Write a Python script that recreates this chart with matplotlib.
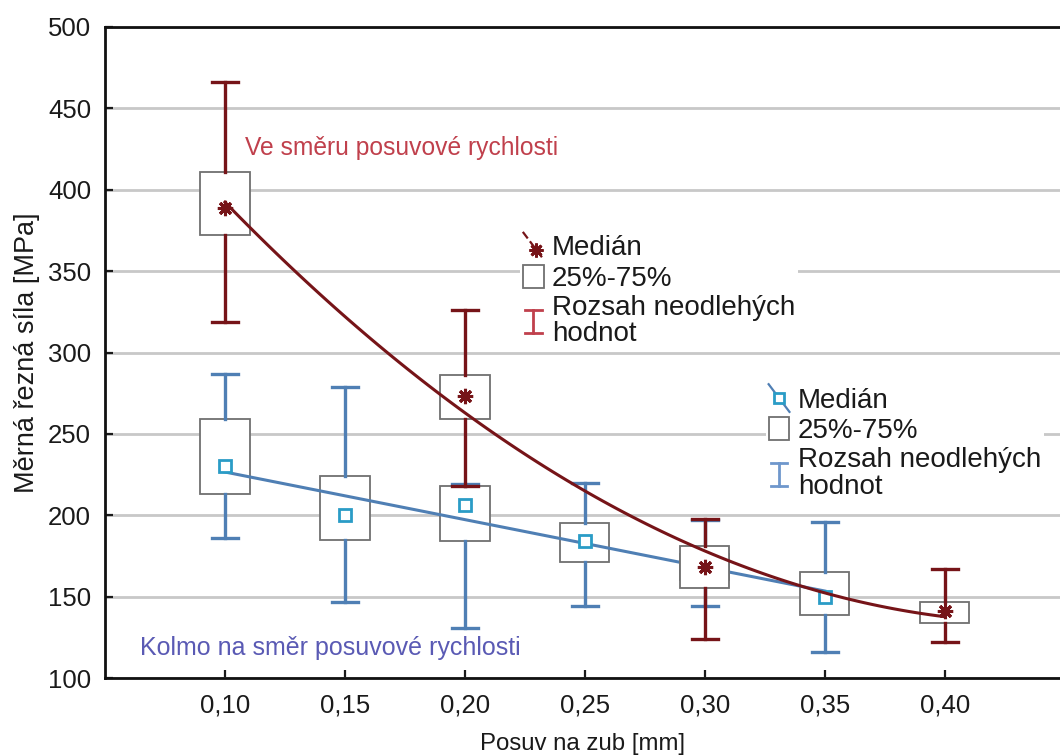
import numpy as np
import matplotlib
matplotlib.use("Agg")
import matplotlib.pyplot as plt
from matplotlib.lines import Line2D
from matplotlib.patches import Patch
from matplotlib.legend_handler import HandlerBase

plt.rcParams['font.family'] = ['Liberation Sans', 'DejaVu Sans']

# feed per tooth [mm]
feed_along = [0.10, 0.20, 0.30, 0.40]
feed_across = [0.10, 0.15, 0.20, 0.25, 0.30, 0.35]

# specific cutting force along the feed direction [MPa]
along_med = [389, 273, 168, 141]
along_q1 = [372, 259, 155, 134]
along_q3 = [411, 286, 181, 147]
along_lo = [319, 218, 124, 122]
along_hi = [466, 326, 198, 167]

# specific cutting force perpendicular to the feed direction [MPa]
across_med = [230, 200, 206, 184, 170, 150]
across_q1 = [213, 185, 184, 171, 160, 139]
across_q3 = [259, 224, 218, 195, 176, 165]
across_lo = [186, 147, 131, 144, 144, 116]
across_hi = [287, 279, 219, 220, 197, 196]

xticks = [0.10, 0.15, 0.20, 0.25, 0.30, 0.35, 0.40]
xticklabels = ['0,10', '0,15', '0,20', '0,25', '0,30', '0,35', '0,40']
yticks = [100, 150, 200, 250, 300, 350, 400, 450, 500]

DARK_RED = '#761418'
LIGHT_RED = '#c0404c'
BLUE = '#4f7fb4'
LIGHT_BLUE = '#6f97cc'
CYAN = '#2a9cc6'
BOX_EDGE = '#707070'


def stats(med, q1, q3, lo, hi):
    return [dict(med=m, q1=a, q3=b, whislo=l, whishi=h, fliers=[])
            for m, a, b, l, h in zip(med, q1, q3, lo, hi)]


class HandlerDiag(HandlerBase):
    # diagonal line with the median marker on it
    def __init__(self, shift=0.15):
        super().__init__()
        self.shift = shift

    def create_artists(self, legend, orig_handle, xdescent, ydescent,
                       width, height, fontsize, trans):
        x0, x1 = -xdescent, -xdescent + width
        y0, y1 = -ydescent - 0.1 * height, -ydescent + 1.1 * height
        ln = Line2D([x0, x1], [y1, y0], color=orig_handle.get_color(),
                    linestyle=orig_handle.get_linestyle(), linewidth=1.6)
        mk = Line2D([(x0 + x1) / 2 + self.shift * width],
                    [(y0 + y1) / 2 - self.shift * (y1 - y0)],
                    linestyle='none', marker=orig_handle.get_marker(),
                    markersize=orig_handle.get_markersize(),
                    markeredgecolor=orig_handle.get_markeredgecolor(),
                    markerfacecolor=orig_handle.get_markerfacecolor(),
                    markeredgewidth=orig_handle.get_markeredgewidth())
        for a in (ln, mk):
            a.set_transform(trans)
        return [ln, mk]


class HandlerIBar(HandlerBase):
    # vertical bar with caps, as the whisker range
    def create_artists(self, legend, orig_handle, xdescent, ydescent,
                       width, height, fontsize, trans):
        cx = -xdescent + width / 2
        y0, y1 = -ydescent, -ydescent + height
        c = orig_handle.get_color()
        lw = orig_handle.get_linewidth()
        arts = [Line2D([cx, cx], [y0, y1], color=c, linewidth=lw),
                Line2D([cx - width * 0.4, cx + width * 0.4], [y0, y0], color=c, linewidth=lw),
                Line2D([cx - width * 0.4, cx + width * 0.4], [y1, y1], color=c, linewidth=lw)]
        for a in arts:
            a.set_transform(trans)
        return arts


fig = plt.figure(figsize=(10.6, 7.56), dpi=100)
ax = fig.add_axes([105 / 1060, 78 / 756, 955 / 1060, 651 / 756])

ax.set_xlim(0.05, 0.448)
ax.set_ylim(100, 500)
ax.yaxis.grid(True, color='#c8c8c8', linewidth=2)
ax.set_axisbelow(True)

# perpendicular direction: boxes, trend line, medians
ax.bxp(stats(across_med, across_q1, across_q3, across_lo, across_hi),
       positions=feed_across, widths=0.0205, capwidths=0.011,
       patch_artist=True, showfliers=False, manage_ticks=False,
       boxprops=dict(facecolor='white', edgecolor=BOX_EDGE, linewidth=1.3),
       whiskerprops=dict(color=BLUE, linewidth=2.4),
       capprops=dict(color=BLUE, linewidth=2.4),
       medianprops=dict(linewidth=0), zorder=2)
fit_b = np.polyfit(feed_across, across_med, 1)
xb = np.linspace(feed_across[0], feed_across[-1], 50)
ax.plot(xb, np.polyval(fit_b, xb), color=BLUE, linewidth=2.2, zorder=2.5)
ax.plot(feed_across, across_med, linestyle='none', marker='s', markersize=8,
        markerfacecolor='white', markeredgecolor=CYAN, markeredgewidth=2, zorder=2.6)

# along the feed direction: boxes, quadratic trend, medians
ax.bxp(stats(along_med, along_q1, along_q3, along_lo, along_hi),
       positions=feed_along, widths=0.0205, capwidths=0.011,
       patch_artist=True, showfliers=False, manage_ticks=False,
       boxprops=dict(facecolor='white', edgecolor=BOX_EDGE, linewidth=1.3),
       whiskerprops=dict(color=DARK_RED, linewidth=2.4),
       capprops=dict(color=DARK_RED, linewidth=2.4),
       medianprops=dict(linewidth=0), zorder=3)
fit_r = np.polyfit(feed_along, along_med, 2)
xr = np.linspace(feed_along[0], feed_along[-1], 100)
ax.plot(xr, np.polyval(fit_r, xr), color=DARK_RED, linewidth=2.2, zorder=3.5)
ax.plot(feed_along, along_med, linestyle='none', marker=(8, 2, 0), markersize=11,
        markeredgecolor=DARK_RED, markeredgewidth=2.2, zorder=3.6)

ax.text(0.1085, 425.6, 'Ve směru posuvové rychlosti', color=LIGHT_RED,
        fontsize=17.7, ha='left', va='center')
ax.text(0.0646, 118.4, 'Kolmo na směr posuvové rychlosti', color='#5a5ab4',
        fontsize=18, ha='left', va='center')

# legends
box_h = Patch(facecolor='white', edgecolor=BOX_EDGE, linewidth=1.3)
med_r = Line2D([], [], color=DARK_RED, linestyle=(0, (3, 1.5)), marker=(8, 2, 0),
               markersize=10, markeredgecolor=DARK_RED, markeredgewidth=2)
rng_r = Line2D([], [], color=LIGHT_RED, linewidth=2)
med_b = Line2D([], [], color=BLUE, marker='s', markersize=7,
               markerfacecolor='white', markeredgecolor=CYAN, markeredgewidth=2)
rng_b = Line2D([], [], color=LIGHT_BLUE, linewidth=2)
labels = ['Medián', '25%-75%', 'Rozsah neodlehých\nhodnot']

leg_kw = dict(loc='upper left', fontsize=20, frameon=True, facecolor='white',
              edgecolor='none', framealpha=1, fancybox=False, borderpad=0.1,
              borderaxespad=0, handlelength=0.75, handleheight=0.9,
              handletextpad=0.3, labelspacing=0.12)
leg1 = ax.legend([med_r, box_h, rng_r], labels, bbox_to_anchor=(0.4346, 0.686),
                 handler_map={med_r: HandlerDiag(0.15), rng_r: HandlerIBar()}, **leg_kw)
ax.add_artist(leg1)
leg2 = ax.legend([med_b, box_h, rng_b], labels, bbox_to_anchor=(0.692, 0.452),
                 handler_map={med_b: HandlerDiag(0.0), rng_b: HandlerIBar()}, **leg_kw)
for lg in (leg1, leg2):
    lg.set_zorder(5)
    for t in lg.get_texts():
        t.set_color('#1a1a1a')
        t.set_linespacing(1.02)

ax.set_xticks(xticks)
ax.set_xticklabels(xticklabels)
ax.set_yticks(yticks)
ax.tick_params(direction='in', length=6, width=1.6, labelsize=18.5, colors='#1a1a1a')
ax.tick_params(axis='x', pad=11)
ax.tick_params(axis='y', pad=10)
for s in ('left', 'bottom', 'top'):
    ax.spines[s].set_linewidth(2)
    ax.spines[s].set_color('#111111')
ax.spines['right'].set_visible(False)

ax.set_xlabel('Posuv na zub [mm]', fontsize=17.3, labelpad=11, color='#1a1a1a')
ax.set_ylabel('Měrná řezná síla [MPa]', fontsize=19.5, labelpad=6, color='#1a1a1a')

fig.savefig('out.png', dpi=100)
